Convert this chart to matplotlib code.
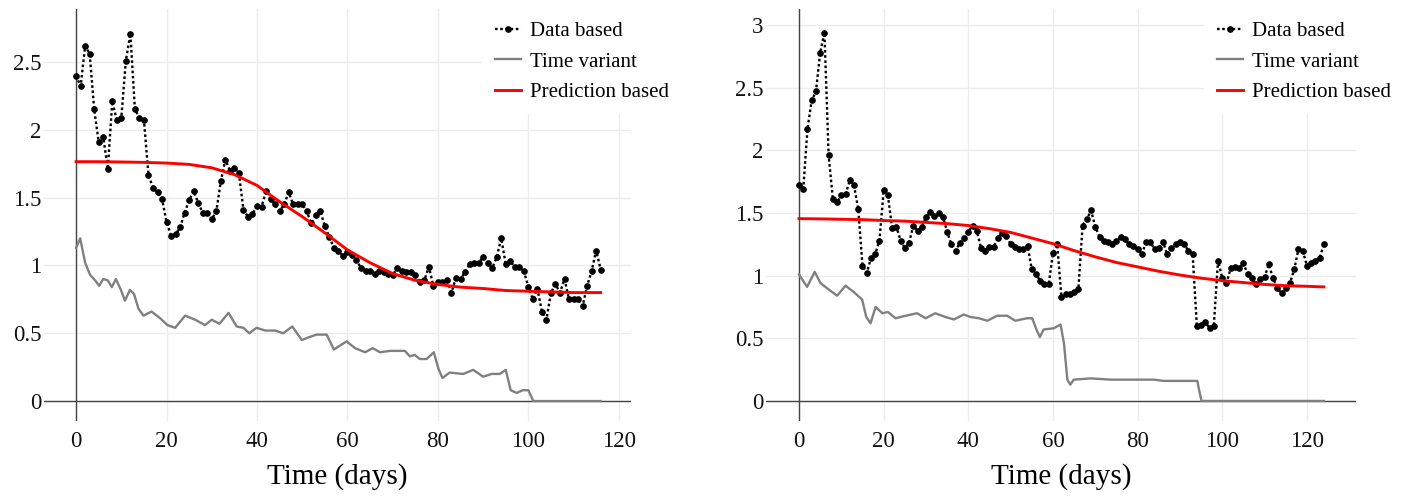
import numpy as np
import matplotlib
matplotlib.use("Agg")
import matplotlib.pyplot as plt
from matplotlib.lines import Line2D

plt.rcParams['font.family'] = ['Liberation Serif', 'DejaVu Serif']

# ---- left case ----
left_data = [2.40, 2.32, 2.62, 2.56, 2.15, 1.91, 1.95, 1.71, 2.21, 2.07,
             2.09, 2.51, 2.71, 2.15, 2.09, 2.07, 1.67, 1.57, 1.54, 1.49,
             1.32, 1.22, 1.23, 1.28, 1.39, 1.48, 1.55, 1.46, 1.39, 1.39,
             1.34, 1.40, 1.62, 1.78, 1.70, 1.72, 1.68, 1.41, 1.36, 1.38,
             1.44, 1.43, 1.55, 1.49, 1.45, 1.40, 1.45, 1.54, 1.45, 1.45,
             1.45, 1.40, 1.31, 1.37, 1.40, 1.29, 1.21, 1.13, 1.11, 1.07,
             1.10, 1.08, 1.04, 0.98, 0.96, 0.96, 0.94, 0.96, 0.95, 0.94,
             0.93, 0.98, 0.96, 0.95, 0.95, 0.93, 0.88, 0.89, 0.99, 0.85,
             0.88, 0.88, 0.89, 0.80, 0.91, 0.90, 0.95, 1.01, 1.02, 1.02,
             1.06, 1.02, 0.98, 1.06, 1.20, 1.01, 1.03, 0.99, 0.99, 0.96,
             0.84, 0.75, 0.83, 0.66, 0.60, 0.80, 0.86, 0.80, 0.90, 0.75,
             0.75, 0.75, 0.70, 0.85, 0.96, 1.11, 0.97]
left_days = np.arange(len(left_data))

left_tv_t = [0, 0.9, 2, 3.1, 4.2, 5.1, 6, 7, 7.9, 8.8, 9.9, 10.8, 11.9, 12.8,
             13.8, 14.9, 16.7, 18.6, 20.2, 21.9, 24.1, 26.3, 28.5, 30, 31.7,
             33.7, 35.5, 37, 38.3, 39.9, 41.8, 44, 45.8, 47.8, 49.9, 51.4,
             53.2, 55.4, 57, 59.8, 61.7, 63.9, 65.6, 67.2, 69.4, 72.7, 73.8,
             74.9, 76, 77.5, 79.1, 80.1, 81, 82.6, 85.6, 87.8, 90, 91.9, 93.7,
             95, 96.1, 97.4, 98.8, 100, 101.1, 116]
left_tv_v = [1.13, 1.20, 1.02, 0.93, 0.89, 0.85, 0.90, 0.89, 0.84, 0.90, 0.82,
             0.74, 0.82, 0.79, 0.68, 0.63, 0.66, 0.61, 0.56, 0.54, 0.63, 0.60,
             0.56, 0.60, 0.57, 0.65, 0.55, 0.54, 0.50, 0.54, 0.52, 0.52, 0.50,
             0.55, 0.45, 0.47, 0.49, 0.49, 0.38, 0.44, 0.39, 0.36, 0.39, 0.36,
             0.37, 0.37, 0.33, 0.34, 0.31, 0.31, 0.36, 0.24, 0.17, 0.21, 0.20,
             0.23, 0.18, 0.20, 0.20, 0.23, 0.08, 0.06, 0.08, 0.08, 0.0, 0.0]

left_pred_t = [0, 5, 10, 15, 20, 25, 30, 35, 40, 45, 50, 55, 60, 65, 70, 75,
               80, 85, 90, 95, 100, 105, 110, 116]
left_pred_v = [1.765, 1.765, 1.763, 1.76, 1.755, 1.745, 1.72, 1.67, 1.59, 1.47,
               1.36, 1.24, 1.115, 1.02, 0.94, 0.89, 0.86, 0.84, 0.83, 0.815,
               0.81, 0.805, 0.80, 0.80]

# ---- right case ----
right_data = [1.72, 1.69, 2.17, 2.40, 2.47, 2.78, 2.94, 1.96, 1.61, 1.59,
              1.64, 1.65, 1.76, 1.72, 1.53, 1.08, 1.02, 1.14, 1.17, 1.28,
              1.68, 1.64, 1.38, 1.39, 1.28, 1.22, 1.26, 1.40, 1.36, 1.39,
              1.47, 1.51, 1.48, 1.50, 1.47, 1.35, 1.25, 1.20, 1.26, 1.30,
              1.35, 1.40, 1.36, 1.22, 1.20, 1.23, 1.23, 1.30, 1.34, 1.32,
              1.25, 1.23, 1.21, 1.21, 1.24, 1.05, 1.01, 0.96, 0.93, 0.93,
              1.18, 1.25, 0.83, 0.85, 0.85, 0.87, 0.89, 1.40, 1.45, 1.52,
              1.39, 1.31, 1.28, 1.27, 1.25, 1.28, 1.31, 1.29, 1.25, 1.24,
              1.21, 1.17, 1.27, 1.27, 1.21, 1.22, 1.27, 1.17, 1.22, 1.25,
              1.27, 1.25, 1.20, 1.17, 0.60, 0.61, 0.63, 0.58, 0.60, 1.12,
              0.98, 0.94, 1.06, 1.07, 1.06, 1.10, 1.01, 0.98, 0.93, 0.97,
              0.99, 1.09, 0.98, 0.90, 0.86, 0.90, 0.94, 1.05, 1.21, 1.20,
              1.08, 1.10, 1.12, 1.14, 1.25]
right_days = np.arange(len(right_data))

right_tv_t = [0, 1.9, 3.7, 5.1, 7, 9, 11, 12.9, 14.9, 15.9, 16.9, 18.1, 19.7,
              21, 22.8, 25.2, 27.9, 29.9, 32.2, 34.6, 36.6, 38.9, 40.5, 42.5,
              44.5, 46.8, 49.2, 51.1, 53.9, 55.1, 56.1, 56.9, 57.8, 60.2, 61.8,
              62.6, 63.4, 64.1, 64.9, 68.9, 73.6, 78.3, 83.8, 86.2, 90.1, 94.1,
              94.7, 95.1, 124]
right_tv_v = [1.01, 0.91, 1.03, 0.94, 0.89, 0.84, 0.92, 0.87, 0.81, 0.67, 0.62,
              0.75, 0.70, 0.71, 0.66, 0.68, 0.70, 0.66, 0.70, 0.67, 0.65, 0.69,
              0.67, 0.66, 0.64, 0.68, 0.68, 0.64, 0.66, 0.66, 0.57, 0.51, 0.57,
              0.58, 0.61, 0.46, 0.17, 0.13, 0.17, 0.18, 0.17, 0.17, 0.17, 0.16,
              0.16, 0.16, 0.06, 0.0, 0.0]

right_pred_t = [0, 5, 10, 15, 20, 25, 30, 35, 40, 45, 50, 55, 60, 65, 70, 75,
                80, 85, 90, 95, 100, 105, 110, 115, 120, 124]
right_pred_v = [1.455, 1.453, 1.45, 1.447, 1.44, 1.435, 1.425, 1.415, 1.40,
                1.375, 1.345, 1.30, 1.255, 1.20, 1.15, 1.105, 1.07, 1.035,
                1.005, 0.98, 0.96, 0.945, 0.93, 0.92, 0.915, 0.91]

x_ticks = [0, 20, 40, 60, 80, 100, 120]
left_yticks = [0, 0.5, 1, 1.5, 2, 2.5]
right_yticks = [0, 0.5, 1, 1.5, 2, 2.5, 3]
labels = ['Data based', 'Time variant', 'Prediction based']

W, H = 1403, 497
fig = plt.figure(figsize=(W / 100, H / 100), dpi=100)

def fmt(v):
    return '%g' % v

def panel(rect, days, data, tv_t, tv_v, pr_t, pr_v, xlim, ylim, yticks, leg_x):
    ax = fig.add_axes(rect)
    for s in ax.spines.values():
        s.set_visible(False)
    ax.set_xlim(*xlim)
    ax.set_ylim(*ylim)
    ax.set_xticks(x_ticks)
    ax.set_yticks(yticks)
    ax.set_yticklabels([fmt(v) for v in yticks])
    ax.tick_params(length=0, labelsize=16.5, colors='#111111')
    ax.tick_params(axis='x', pad=7)
    ax.tick_params(axis='y', pad=2)
    ax.grid(True, color='#ececec', linewidth=1.0, zorder=0)
    ax.set_axisbelow(True)
    ax.axhline(0, color='#444444', linewidth=1.0, zorder=1)
    ax.axvline(0, color='#444444', linewidth=1.0, zorder=1)

    ax.plot(days, data, color='black', linestyle=(0, (1.1, 1.1)), linewidth=1.7,
            marker='o', markersize=3.8, zorder=3)
    ax.plot(tv_t, tv_v, color='#808080', linewidth=1.7, zorder=3)
    ax.plot(pr_t, pr_v, color='#ff0000', linewidth=2.1, zorder=4)

    ax.set_xlabel('Time (days)', fontsize=21, labelpad=8)

    handles = [
        Line2D([], [], color='black', linestyle=(0, (1.1, 1.1)), linewidth=1.7,
               marker='o', markersize=3.8),
        Line2D([], [], color='#808080', linewidth=1.7),
        Line2D([], [], color='#ff0000', linewidth=2.1),
    ]
    leg = ax.legend(handles, labels, loc='upper left',
                    bbox_to_anchor=(leg_x / W, 1 - 9 / H),
                    bbox_transform=fig.transFigure, fontsize=15,
                    frameon=True, fancybox=False, borderaxespad=0,
                    borderpad=0.6, labelspacing=0.52, handlelength=1.25,
                    handletextpad=0.45, numpoints=1)
    leg.get_frame().set_facecolor('white')
    leg.get_frame().set_edgecolor('none')
    leg.get_frame().set_alpha(1.0)
    leg.set_zorder(5)
    return ax

bottom = 1 - 421 / H
height = (421 - 9) / H
panel([44 / W, bottom, (631 - 44) / W, height], left_days, left_data,
      left_tv_t, left_tv_v, left_pred_t, left_pred_v,
      (-7.1, 122.7), (-0.147, 2.891), left_yticks, 482)
panel([766 / W, bottom, (1356 - 766) / W, height], right_days, right_data,
      right_tv_t, right_tv_v, right_pred_t, right_pred_v,
      (-7.8, 131.6), (-0.16, 3.128), right_yticks, 1204)

fig.savefig('out.png', dpi=100, facecolor='white')
